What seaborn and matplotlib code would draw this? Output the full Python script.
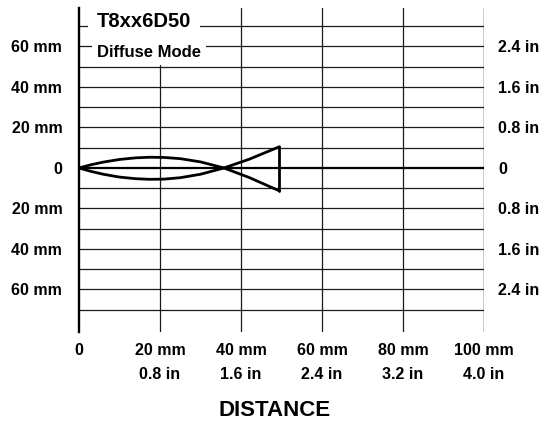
import matplotlib
matplotlib.use("Agg")
import matplotlib.pyplot as plt
import seaborn as sns
import pandas as pd

# ---- data (mm) ----
upper_x = [0, 3, 6, 10, 14, 17.5, 21, 25, 30, 35.8, 42, 49.5]
upper_y = [0, 1.6, 2.9, 4.2, 5.0, 5.3, 5.2, 4.6, 3.0, 0, -4.7, -11.3]
lower_x = [0, 3, 6, 10, 14, 17.5, 21, 25, 30, 35.8, 42, 49.5]
lower_y = [0, -1.7, -3.1, -4.5, -5.3, -5.6, -5.5, -4.8, -3.1, 0, 4.3, 10.5]
edge_x = [49.5, 49.5]
edge_y = [10.5, -11.3]

y_ticks = [60, 40, 20, 0, -20, -40, -60]
y_left_labels = ["60 mm", "40 mm", "20 mm", "0", "20 mm", "40 mm", "60 mm"]
y_right_labels = ["2.4 in", "1.6 in", "0.8 in", "0", "0.8 in", "1.6 in", "2.4 in"]
x_ticks = [0, 20, 40, 60, 80, 100]
x_labels = ["0", "20 mm\n0.8 in", "40 mm\n1.6 in", "60 mm\n2.4 in", "80 mm\n3.2 in", "100 mm\n4.0 in"]
grid_y = [-70, -60, -50, -40, -30, -20, -10, 10, 20, 30, 40, 50, 60, 70]
title_text = "T8xx6D50"
mode_text = "Diffuse Mode"
xlabel_text = "DISTANCE"

sns.set_theme(style="white")
plt.rcParams['font.family'] = ['Liberation Sans Narrow', 'Liberation Sans', 'DejaVu Sans']
plt.rcParams['font.weight'] = 'bold'
for k in ['text.color', 'xtick.color', 'ytick.color', 'axes.labelcolor']:
    plt.rcParams[k] = 'black'

fig = plt.figure(figsize=(5.45, 4.28), dpi=100)
ax = fig.add_axes([79/545, 96/428, 405/545, 324/428])
ax.set_xlim(0, 100)
ax.set_ylim(-81, 79)

for s in ["top", "right", "bottom"]:
    ax.spines[s].set_visible(False)
ax.spines["left"].set_linewidth(1.7)
ax.spines["left"].set_color("black")
ax.spines["left"].set_zorder(5)

# grid lines
for gy in grid_y:
    ax.axhline(gy, color="#1a1a1a", lw=0.9, zorder=1)
for gx in [40, 60, 80]:
    ax.axvline(gx, color="#1a1a1a", lw=0.9, zorder=1)
ax.axvline(20, ymax=(50.9 + 81) / 160, color="#1a1a1a", lw=0.9, zorder=1)
ax.axvline(100, color="black", lw=1.0, zorder=1)
ax.axhline(0, color="black", lw=1.6, zorder=2)

# beam pattern
df_u = pd.DataFrame({"x": upper_x, "y": upper_y})
df_l = pd.DataFrame({"x": lower_x, "y": lower_y})
df_e = pd.DataFrame({"x": edge_x, "y": edge_y})
for d in (df_u, df_l, df_e):
    sns.lineplot(data=d, x="x", y="y", sort=False, estimator=None,
                 color="black", lw=2.0, ax=ax, zorder=4)

# labels inside
ax.text(4.4, 69.6, title_text, fontsize=14.5, fontweight="bold", va="baseline", ha="left",
        bbox=dict(facecolor="white", edgecolor="none", boxstyle="square", pad=0.45), zorder=6)
ax.text(4.4, 54.8, mode_text, fontsize=12, fontweight="bold", va="baseline", ha="left",
        bbox=dict(facecolor="white", edgecolor="none", boxstyle="square", pad=0.3), zorder=6)

# ticks
ax.set_yticks(y_ticks)
ax.set_yticklabels(y_left_labels, fontsize=11.5, fontweight="bold")
ax.tick_params(axis="y", length=0, pad=12)
ax.set_xticks(x_ticks)
ax.set_xticklabels(x_labels, fontsize=11.5, fontweight="bold", linespacing=1.75)
ax.tick_params(axis="x", length=0, pad=8)
ax.set_xlabel("")
ax.set_ylabel("")

ax2 = ax.twinx()
ax2.set_ylim(ax.get_ylim())
for s in ax2.spines.values():
    s.set_visible(False)
ax2.set_yticks(y_ticks)
ax2.set_yticklabels(y_right_labels, fontsize=11.5, fontweight="bold")
ax2.tick_params(axis="y", length=0, pad=10)
ax2.grid(False)
ax.grid(False)

fig.text(275/545, 1 - 411/428, xlabel_text, fontsize=16, fontweight="bold", ha="center", va="center")

fig.savefig("out.png", dpi=100, facecolor="white")
